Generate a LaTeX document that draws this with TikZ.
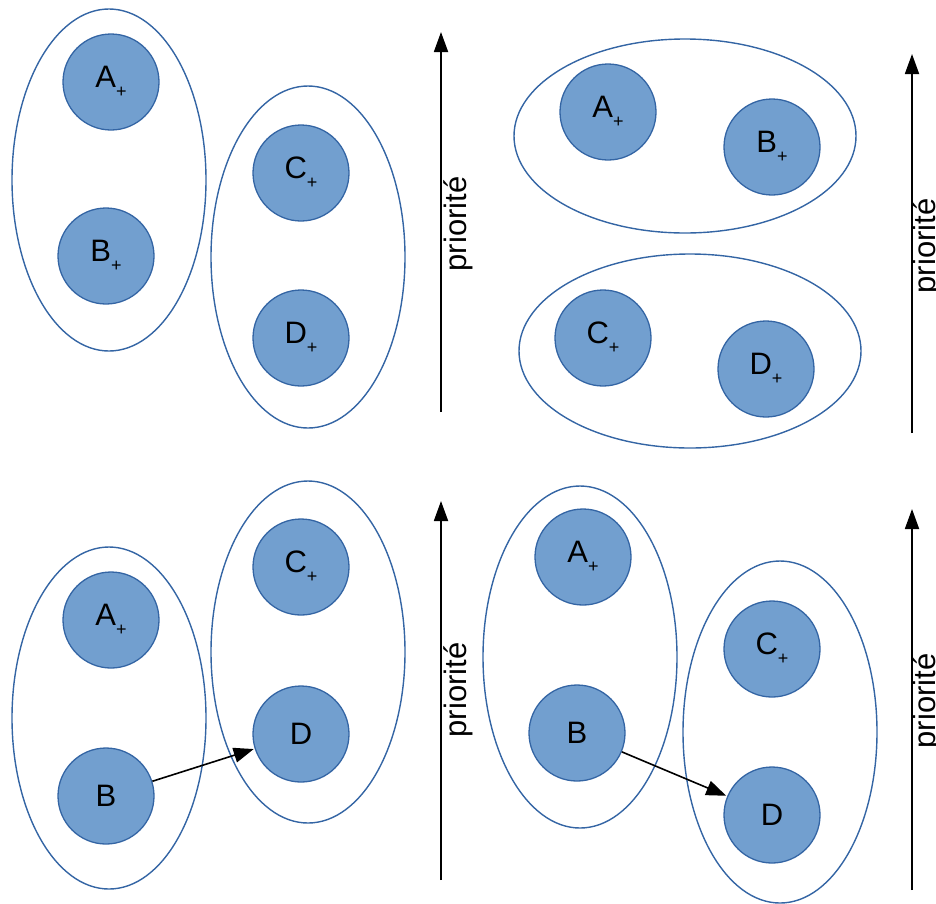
\documentclass[tikz,border=0pt]{standalone}
\usepackage{fontspec}
\setmainfont{Liberation Sans}
\usetikzlibrary{arrows.meta,shapes.geometric}
\definecolor{ballfill}{RGB}{114,159,207}
\definecolor{ballline}{RGB}{52,101,164}
\newcommand{\plussub}{\raisebox{-10pt}{\fontsize{18}{18}\selectfont +}}
\tikzset{
  ball/.style={circle, draw=ballline, line width=1.3pt, fill=ballfill, minimum size=96pt, inner sep=0pt, font=\fontsize{31}{36}\selectfont},
  vgroup/.style={ellipse, draw=ballline, line width=1.4pt, minimum width=194pt, minimum height=342pt, inner sep=0pt},
  hgroup/.style={ellipse, draw=ballline, line width=1.4pt, minimum width=342pt, minimum height=194pt, inner sep=0pt},
  prio/.style={line width=1.8pt, -{Triangle[length=20pt,width=14pt]}},
  move/.style={line width=1.6pt, -{Triangle[length=20pt,width=15pt]}, shorten >=1pt},
  priolabel/.style={rotate=90, anchor=base, inner sep=0pt, font=\fontsize{31}{36}\selectfont}
}
\begin{document}
\begin{tikzpicture}[x=1pt,y=-1pt]
\useasboundingbox (0,0) rectangle (936,903);
% ---------- top left ----------
\node[vgroup] (g1) at (109,180) {};
\node[vgroup] (g2) at (308,257) {};
\node[ball] (a1) at (111,82) {A\plussub};
\node[ball] (b1) at (106,256) {B\plussub};
\node[ball] (c1) at (301,173) {C\plussub};
\node[ball] (d1) at (301,338) {D\plussub};
\coordinate (p1s) at (441,412);
\coordinate (p1e) at (441,32);
\draw[prio] (p1s) -- (p1e);
\node[priolabel] (l1) at (466,224) {priorité};
% ---------- top right ----------
\node[hgroup] (g3) at (685,136) {};
\node[hgroup] (g4) at (690,351) {};
\node[ball] (a2) at (608,112) {A\plussub};
\node[ball] (b2) at (772,147) {B\plussub};
\node[ball] (c2) at (603,338) {C\plussub};
\node[ball] (d2) at (766,369) {D\plussub};
\coordinate (p2s) at (912,433);
\coordinate (p2e) at (912,54);
\draw[prio] (p2s) -- (p2e);
\node[priolabel] (l2) at (935,246) {priorité};
% ---------- bottom left ----------
\node[vgroup] (g5) at (109,718) {};
\node[vgroup] (g6) at (308,652) {};
\node[ball] (a3) at (111,620) {A\plussub};
\node[ball] (b3) at (106,796) {B};
\node[ball] (c3) at (301,567) {C\plussub};
\node[ball] (d3) at (301,734) {D};
\draw[move] (b3) -- (d3);
\coordinate (p3s) at (441,880);
\coordinate (p3e) at (441,501);
\draw[prio] (p3s) -- (p3e);
\node[priolabel] (l3) at (466,690) {priorité};
% ---------- bottom right ----------
\node[vgroup] (g7) at (580,657) {};
\node[vgroup] (g8) at (780,732) {};
\node[ball] (a4) at (583,557) {A\plussub};
\node[ball] (b4) at (577,733) {B};
\node[ball] (c4) at (772,649) {C\plussub};
\node[ball] (d4) at (772,815) {D};
\draw[move] (b4) -- (d4);
\coordinate (p4s) at (912,890);
\coordinate (p4e) at (912,509);
\draw[prio] (p4s) -- (p4e);
\node[priolabel] (l4) at (935,701) {priorité};
\end{tikzpicture}
\end{document}
